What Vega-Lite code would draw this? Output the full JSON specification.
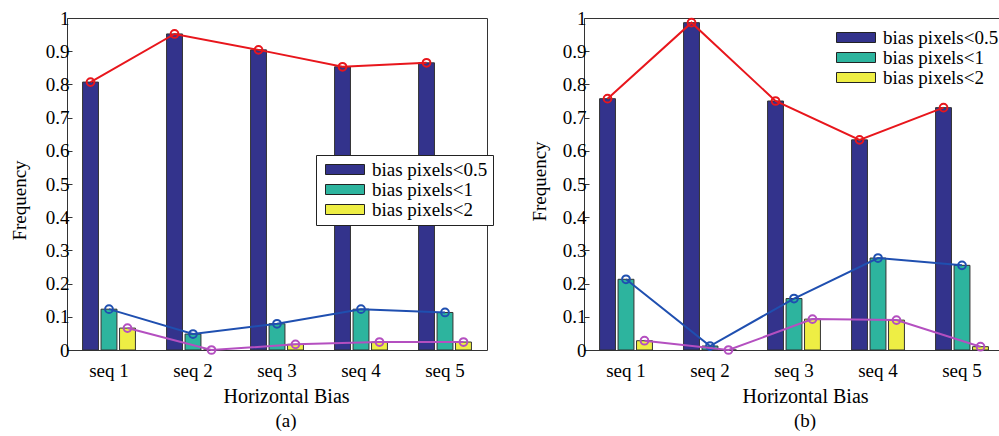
{
  "$schema": "https://vega.github.io/schema/vega-lite/v6.json",
  "background": "white",
  "padding": {"left": 9, "top": 8, "right": 0, "bottom": 0},
  "spacing": 35,
  "datasets": {
    "a": [
      {"seq": "seq 1", "series": "bias pixels<0.5", "value": 0.807},
      {"seq": "seq 1", "series": "bias pixels<1", "value": 0.123},
      {"seq": "seq 1", "series": "bias pixels<2", "value": 0.066},
      {"seq": "seq 2", "series": "bias pixels<0.5", "value": 0.952},
      {"seq": "seq 2", "series": "bias pixels<1", "value": 0.048},
      {"seq": "seq 2", "series": "bias pixels<2", "value": 0.0},
      {"seq": "seq 3", "series": "bias pixels<0.5", "value": 0.904},
      {"seq": "seq 3", "series": "bias pixels<1", "value": 0.079},
      {"seq": "seq 3", "series": "bias pixels<2", "value": 0.017},
      {"seq": "seq 4", "series": "bias pixels<0.5", "value": 0.853},
      {"seq": "seq 4", "series": "bias pixels<1", "value": 0.123},
      {"seq": "seq 4", "series": "bias pixels<2", "value": 0.024},
      {"seq": "seq 5", "series": "bias pixels<0.5", "value": 0.865},
      {"seq": "seq 5", "series": "bias pixels<1", "value": 0.113},
      {"seq": "seq 5", "series": "bias pixels<2", "value": 0.024}
    ],
    "b": [
      {"seq": "seq 1", "series": "bias pixels<0.5", "value": 0.757},
      {"seq": "seq 1", "series": "bias pixels<1", "value": 0.213},
      {"seq": "seq 1", "series": "bias pixels<2", "value": 0.028},
      {"seq": "seq 2", "series": "bias pixels<0.5", "value": 0.986},
      {"seq": "seq 2", "series": "bias pixels<1", "value": 0.012},
      {"seq": "seq 2", "series": "bias pixels<2", "value": 0.0},
      {"seq": "seq 3", "series": "bias pixels<0.5", "value": 0.75},
      {"seq": "seq 3", "series": "bias pixels<1", "value": 0.155},
      {"seq": "seq 3", "series": "bias pixels<2", "value": 0.093},
      {"seq": "seq 4", "series": "bias pixels<0.5", "value": 0.633},
      {"seq": "seq 4", "series": "bias pixels<1", "value": 0.277},
      {"seq": "seq 4", "series": "bias pixels<2", "value": 0.09},
      {"seq": "seq 5", "series": "bias pixels<0.5", "value": 0.73},
      {"seq": "seq 5", "series": "bias pixels<1", "value": 0.255},
      {"seq": "seq 5", "series": "bias pixels<2", "value": 0.01}
    ]
  },
  "config": {
    "font": "Liberation Serif",
    "view": {"stroke": "#333333", "strokeWidth": 1},
    "axis": {
      "labelFont": "Liberation Serif",
      "titleFont": "Liberation Serif",
      "labelColor": "black",
      "titleColor": "black",
      "titleFontWeight": "normal",
      "grid": false,
      "domain": false
    },
    "legend": {
      "labelFont": "Liberation Serif",
      "labelFontSize": 19,
      "labelColor": "black"
    },
    "title": {"font": "Liberation Serif", "fontWeight": "normal", "fontSize": 19, "color": "black"}
  },
  "hconcat": [
    {
      "width": 420,
      "height": 332,
      "data": {"name": "a"},
      "title": {"text": "(a)", "orient": "bottom", "anchor": "middle", "offset": 6, "dx": 9},
      "encoding": {
        "x": {
          "field": "seq", "type": "nominal",
          "scale": {"paddingInner": 0.34, "paddingOuter": 0.17},
          "axis": {"title": "Horizontal Bias", "labelAngle": 0, "labelFontSize": 19, "titleFontSize": 20, "ticks": false, "labelPadding": 11, "titlePadding": 6, "titleX": 219}
        },
        "xOffset": {"field": "series", "type": "nominal", "scale": {"domain": ["bias pixels<0.5", "bias pixels<1", "bias pixels<2"], "paddingInner": 0.14, "paddingOuter": 0.07}},
        "y": {
          "field": "value", "type": "quantitative",
          "scale": {"domain": [0, 1], "nice": false},
          "axis": {"title": "Frequency", "titleFontSize": 19, "labelFontSize": 19, "values": [0, 0.1, 0.2, 0.3, 0.4, 0.5, 0.6, 0.7, 0.8, 0.9, 1], "format": "~g", "tickSize": -5, "tickColor": "#333333", "labelPadding": 3, "titlePadding": 16, "titleY": 182}
        }
      },
      "layer": [
        {
          "mark": {"type": "bar", "stroke": "#333333", "strokeWidth": 1},
          "encoding": {
            "fill": {
              "field": "series", "type": "nominal",
              "scale": {"domain": ["bias pixels<0.5", "bias pixels<1", "bias pixels<2"], "range": ["#33338c", "#2db49e", "#eeee44"]},
              "legend": {"orient": "none", "legendX": 249, "legendY": 137, "title": null, "strokeColor": "#222222", "fillColor": "white", "padding": 5, "symbolType": "M-1,-1L6.8,-1L6.8,1L-1,1Z", "symbolSize": 100, "symbolStrokeColor": "#222222", "symbolStrokeWidth": 1, "symbolOpacity": 1, "rowPadding": -2, "labelOffset": 32}
            }
          }
        },
        {
          "transform": [{"filter": "datum.series === 'bias pixels<0.5'"}],
          "mark": {"type": "line", "strokeWidth": 2, "color": "#e8161c", "point": {"filled": false, "fill": "transparent", "size": 60, "strokeWidth": 2, "stroke": "#e8161c"}}
        },
        {
          "transform": [{"filter": "datum.series === 'bias pixels<1'"}],
          "mark": {"type": "line", "strokeWidth": 2, "color": "#1f4fb0", "point": {"filled": false, "fill": "transparent", "size": 60, "strokeWidth": 2, "stroke": "#1f4fb0"}}
        },
        {
          "transform": [{"filter": "datum.series === 'bias pixels<2'"}],
          "mark": {"type": "line", "strokeWidth": 2, "color": "#b44fc0", "point": {"filled": false, "fill": "transparent", "size": 60, "strokeWidth": 2, "stroke": "#b44fc0"}}
        }
      ]
    },
    {
      "width": 420,
      "height": 332,
      "data": {"name": "b"},
      "title": {"text": "(b)", "orient": "bottom", "anchor": "middle", "offset": 6, "dx": 11},
      "encoding": {
        "x": {
          "field": "seq", "type": "nominal",
          "scale": {"paddingInner": 0.34, "paddingOuter": 0.17},
          "axis": {"title": "Horizontal Bias", "labelAngle": 0, "labelFontSize": 19, "titleFontSize": 20, "ticks": false, "labelPadding": 11, "titlePadding": 6, "titleX": 221}
        },
        "xOffset": {"field": "series", "type": "nominal", "scale": {"domain": ["bias pixels<0.5", "bias pixels<1", "bias pixels<2"], "paddingInner": 0.14, "paddingOuter": 0.07}},
        "y": {
          "field": "value", "type": "quantitative",
          "scale": {"domain": [0, 1], "nice": false},
          "axis": {"title": "Frequency", "titleFontSize": 19, "labelFontSize": 19, "values": [0, 0.1, 0.2, 0.3, 0.4, 0.5, 0.6, 0.7, 0.8, 0.9, 1], "format": "~g", "tickSize": -5, "tickColor": "#333333", "labelPadding": 3, "titlePadding": 13, "titleY": 163}
        }
      },
      "layer": [
        {
          "mark": {"type": "bar", "stroke": "#333333", "strokeWidth": 1},
          "encoding": {
            "fill": {
              "field": "series", "type": "nominal",
              "scale": {"domain": ["bias pixels<0.5", "bias pixels<1", "bias pixels<2"], "range": ["#33338c", "#2db49e", "#eeee44"]},
              "legend": {"orient": "none", "legendX": 243, "legendY": 5, "title": null, "padding": 5, "symbolType": "M-1,-1L6.8,-1L6.8,1L-1,1Z", "symbolSize": 100, "symbolStrokeColor": "#222222", "symbolStrokeWidth": 1, "symbolOpacity": 1, "rowPadding": -2, "labelOffset": 32}
            }
          }
        },
        {
          "transform": [{"filter": "datum.series === 'bias pixels<0.5'"}],
          "mark": {"type": "line", "strokeWidth": 2, "color": "#e8161c", "point": {"filled": false, "fill": "transparent", "size": 60, "strokeWidth": 2, "stroke": "#e8161c"}}
        },
        {
          "transform": [{"filter": "datum.series === 'bias pixels<1'"}],
          "mark": {"type": "line", "strokeWidth": 2, "color": "#1f4fb0", "point": {"filled": false, "fill": "transparent", "size": 60, "strokeWidth": 2, "stroke": "#1f4fb0"}}
        },
        {
          "transform": [{"filter": "datum.series === 'bias pixels<2'"}],
          "mark": {"type": "line", "strokeWidth": 2, "color": "#b44fc0", "point": {"filled": false, "fill": "transparent", "size": 60, "strokeWidth": 2, "stroke": "#b44fc0"}}
        }
      ]
    }
  ],
  "resolve": {"scale": {"fill": "independent"}, "legend": {"fill": "independent"}}
}
